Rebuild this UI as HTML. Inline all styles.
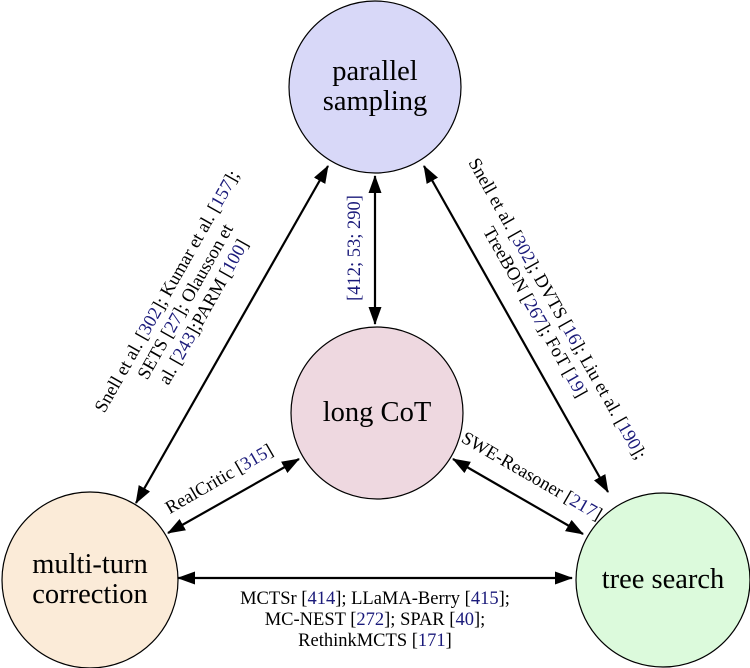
<!DOCTYPE html>
<html><head><meta charset="utf-8"><style>
html,body{margin:0;padding:0;background:#fff;}
svg{display:block;font-family:"Liberation Serif","Times New Roman",serif;}
.b{fill:#1a1a7a;}
</style></head><body>
<svg width="750" height="668" viewBox="0 0 750 668" xmlns="http://www.w3.org/2000/svg">
<defs>
<marker id="a" viewBox="0 0 18 13" refX="17" refY="6.5" markerWidth="18" markerHeight="13" markerUnits="userSpaceOnUse" orient="auto-start-reverse">
<path d="M0,0 L18,6.5 L0,13 z" fill="#000"/>
</marker>
</defs>
<circle cx="375" cy="87" r="86" fill="#d8d8f8" stroke="#000" stroke-width="1.2"/>
<circle cx="377" cy="413" r="86" fill="#eed8e0" stroke="#000" stroke-width="1.2"/>
<circle cx="90" cy="580" r="88" fill="#fbebd8" stroke="#000" stroke-width="1.2"/>
<circle cx="663" cy="580" r="87" fill="#dcfadc" stroke="#000" stroke-width="1.2"/>

<g font-size="28.5" text-anchor="middle">
<text x="375" y="80">parallel</text>
<text x="375" y="110">sampling</text>
<text x="377" y="421">long CoT</text>
<text x="90" y="573">multi-turn</text>
<text x="90" y="603">correction</text>
<text x="663" y="588">tree search</text>
</g>

<g stroke="#000" stroke-width="2.2" fill="none">
<line x1="375" y1="176" x2="375" y2="324" marker-start="url(#a)" marker-end="url(#a)"/>
<line x1="328" y1="166" x2="136" y2="503" marker-start="url(#a)" marker-end="url(#a)"/>
<line x1="424" y1="166" x2="608" y2="492" marker-start="url(#a)" marker-end="url(#a)"/>
<line x1="299" y1="459" x2="168" y2="533" marker-start="url(#a)" marker-end="url(#a)"/>
<line x1="453" y1="459" x2="583" y2="534" marker-start="url(#a)" marker-end="url(#a)"/>
<line x1="178" y1="578" x2="572" y2="578" marker-start="url(#a)" marker-end="url(#a)"/>
</g>

<g font-size="18.5">
<text transform="translate(360,248) rotate(-90)" text-anchor="middle"><tspan class="b">[412; 53; 290]</tspan></text>

<g transform="translate(186,302) rotate(-60.5)" text-anchor="middle">
<text x="0" y="-16">Snell et al. [<tspan class="b">302</tspan>]; Kumar et al. [<tspan class="b">157</tspan>];</text>
<text x="0" y="5">SETS [<tspan class="b">27</tspan>]; Olausson et</text>
<text x="0" y="26">al. [<tspan class="b">243</tspan>];PARM [<tspan class="b">100</tspan>]</text>
</g>

<g transform="translate(548,314) rotate(60.5)" text-anchor="middle">
<text x="0" y="-5">Snell et al. [<tspan class="b">302</tspan>]; DVTS [<tspan class="b">16</tspan>]; Liu et al. [<tspan class="b">190</tspan>];</text>
<text x="-8" y="16">TreeBON [<tspan class="b">267</tspan>]; FoT [<tspan class="b">19</tspan>]</text>
</g>

<text transform="translate(222,484) rotate(-30)" text-anchor="middle">RealCritic [<tspan class="b">315</tspan>]</text>
<text transform="translate(529,481) rotate(30)" text-anchor="middle">SWE-Reasoner [<tspan class="b">217</tspan>]</text>

<g text-anchor="middle">
<text x="375" y="604">MCTSr [<tspan class="b">414</tspan>]; LLaMA-Berry [<tspan class="b">415</tspan>];</text>
<text x="375" y="625">MC-NEST [<tspan class="b">272</tspan>]; SPAR [<tspan class="b">40</tspan>];</text>
<text x="375" y="646">RethinkMCTS [<tspan class="b">171</tspan>]</text>
</g>
</g>
</svg>
</body></html>
